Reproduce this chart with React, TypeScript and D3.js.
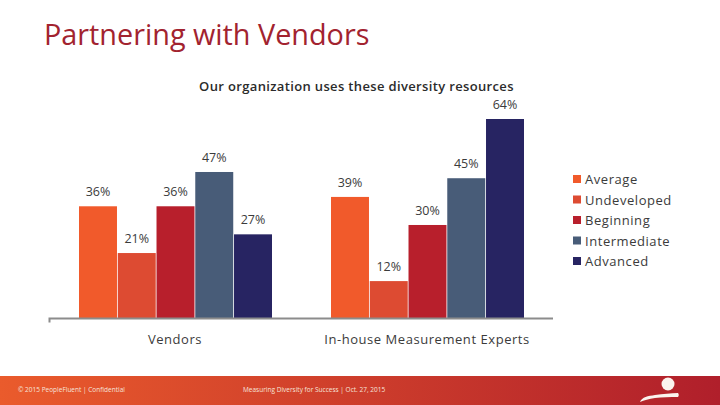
import React, { useEffect, useRef } from 'react';
import * as d3 from 'd3';

const categories = ['Vendors', 'In-house Measurement Experts'];
const seriesNames = ['Average', 'Undeveloped', 'Beginning', 'Intermediate', 'Advanced'];
const vendorValues = [36, 21, 36, 47, 27];
const inHouseValues = [39, 12, 30, 45, 64];
const seriesColors = ['#f15a2b', '#dd4b32', '#b81f2c', '#485c78', '#272462'];

const width = 720;
const height = 405;
const font = '"Open Sans", "DejaVu Sans", sans-serif';
const textColor = '#3b3b3b';

const App: React.FC = () => {
  const svgRef = useRef<SVGSVGElement>(null);

  useEffect(() => {
    const svg = d3.select(svgRef.current);
    svg.selectAll('*').remove();

    const grad = svg.append('defs').append('linearGradient').attr('id', 'footerGrad');
    grad.append('stop').attr('offset', '0%').attr('stop-color', '#ea5b2c');
    grad.append('stop').attr('offset', '100%').attr('stop-color', '#b01f2b');

    // Title
    svg.append('text')
      .attr('x', 44)
      .attr('y', 44.5)
      .attr('font-size', 28.8)
      .attr('fill', '#a2232f')
      .text('Partnering with Vendors');

    svg.append('text')
      .attr('x', 356.5)
      .attr('y', 90.5)
      .attr('text-anchor', 'middle')
      .attr('font-size', 13)
      .attr('font-weight', 600)
      .attr('letter-spacing', 0.35)
      .attr('fill', '#2b2b2b')
      .text('Our organization uses these diversity resources');

    // Chart
    const x0 = d3.scaleBand<string>()
      .domain(categories)
      .range([49, 553]);

    const x1 = d3.scaleBand<string>()
      .domain(seriesNames)
      .range([30, 223])
      .paddingInner(0.02);

    const y = d3.scaleLinear()
      .domain([0, 64])
      .range([318.5, 119]);

    const groups = [vendorValues, inHouseValues];

    groups.forEach((values, gi) => {
      const g = svg.append('g')
        .attr('transform', `translate(${x0(categories[gi])},0)`);

      g.selectAll('rect')
        .data(values)
        .enter().append('rect')
        .attr('x', (_d, i) => x1(seriesNames[i])!)
        .attr('y', d => y(d))
        .attr('width', x1.bandwidth())
        .attr('height', d => y(0) - y(d))
        .attr('fill', (_d, i) => seriesColors[i]);

      g.selectAll('text')
        .data(values)
        .enter().append('text')
        .attr('x', (_d, i) => x1(seriesNames[i])! + x1.bandwidth() / 2)
        .attr('y', d => y(d) - 10)
        .attr('text-anchor', 'middle')
        .attr('font-size', 12.5)
        .attr('fill', textColor)
        .text(d => `${d}%`);
    });

    const axis = svg.append('g')
      .attr('transform', `translate(0,${y(0)})`)
      .call(d3.axisBottom(x0).tickSize(0).tickPadding(16));
    axis.select('.domain')
      .attr('stroke', '#8c8c8c')
      .attr('stroke-width', 2)
      .attr('d', 'M49.5,4V0H553');
    axis.selectAll('text')
      .attr('font-family', font)
      .attr('font-size', 13)
      .attr('letter-spacing', 0.55)
      .attr('fill', textColor);

    // Legend
    const legend = svg.append('g').attr('transform', 'translate(573,179)');
    const legendY = d3.scalePoint<string>()
      .domain(seriesNames)
      .range([0, 82]);

    seriesNames.forEach((name, i) => {
      const row = legend.append('g').attr('transform', `translate(0,${legendY(name)})`);
      row.append('rect')
        .attr('x', 0)
        .attr('y', -4)
        .attr('width', 8)
        .attr('height', 8)
        .attr('fill', seriesColors[i]);
      row.append('text')
        .attr('x', 12)
        .attr('y', 5)
        .attr('font-size', 13)
        .attr('letter-spacing', 0.55)
        .attr('fill', textColor)
        .text(name);
    });

    // Footer
    svg.append('rect')
      .attr('x', 0)
      .attr('y', 376)
      .attr('width', width)
      .attr('height', 29)
      .attr('fill', 'url(#footerGrad)');

    svg.append('text')
      .attr('x', 18)
      .attr('y', 392)
      .attr('font-size', 6.5)
      .attr('fill', '#f6e3da')
      .text('© 2015 PeopleFluent | Confidential');

    svg.append('text')
      .attr('x', 243)
      .attr('y', 392)
      .attr('font-size', 6.5)
      .attr('fill', '#f6e3da')
      .text('Measuring Diversity for Success | Oct. 27, 2015');

    // Logo
    svg.append('circle')
      .attr('cx', 668)
      .attr('cy', 384)
      .attr('r', 6.5)
      .attr('fill', '#fbf3ee');
    svg.append('path')
      .attr('d', 'M640,402 C642,397 648,396 655,395 C663,394 671,393 678,393 C679,394 679,396 678,397 C670,397 662,397 655,398 C649,399 644,400 640,402 Z')
      .attr('fill', '#fbf3ee');
  }, []);

  return (
    <svg
      ref={svgRef}
      width={width}
      height={height}
      fontFamily={font}
      style={{ position: 'absolute', left: 0, top: 0, background: '#fff' }}
    />
  );
};

export default App;
